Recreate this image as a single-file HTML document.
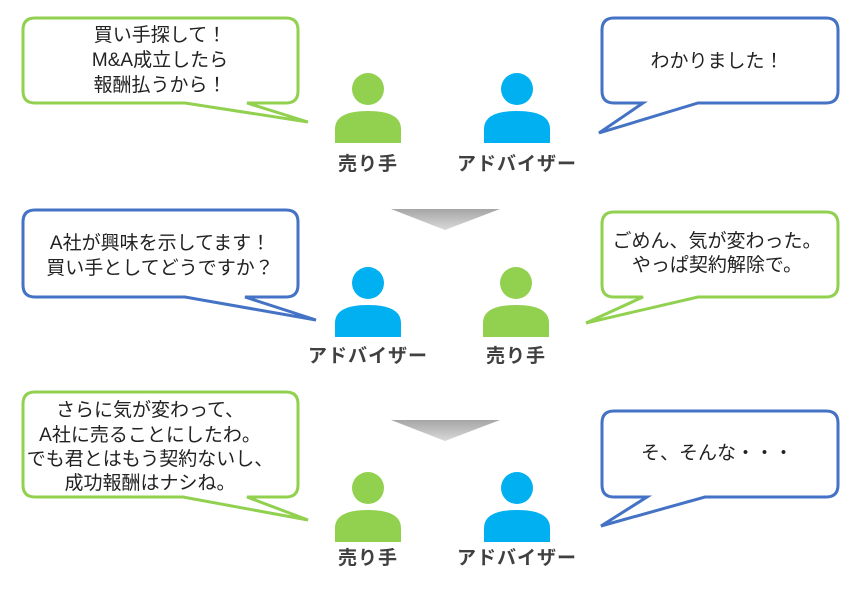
<!DOCTYPE html>
<html><head><meta charset="utf-8"><style>
html,body{margin:0;padding:0;background:#fff;}
svg{display:block;}
.t{font-family:"Liberation Sans","Noto Sans CJK JP",sans-serif;font-size:19px;fill:#222;text-anchor:middle;}
.l{font-family:"Liberation Sans","Noto Sans CJK JP",sans-serif;font-size:19px;letter-spacing:1px;font-weight:bold;fill:#404040;text-anchor:middle;}
.g{fill:#fff;stroke:#92d050;stroke-width:3;stroke-linejoin:miter;}
.b{fill:#fff;stroke:#4472c4;stroke-width:3;stroke-linejoin:miter;}
</style></head><body>
<svg width="864" height="598" viewBox="0 0 864 598" xmlns="http://www.w3.org/2000/svg">
<defs>
<linearGradient id="ar" x1="0" y1="0" x2="0" y2="1"><stop offset="0" stop-color="#a6a6a6"/><stop offset="1" stop-color="#d9d9d9"/></linearGradient>
<g id="pg"><circle cx="0" cy="0" r="16" fill="#92d050"/><path d="M-33,54 V40 Q-33,22 0,22 Q33,22 33,40 V54 Z" fill="#92d050"/></g>
<g id="pb"><circle cx="0" cy="0" r="16" fill="#00b0f0"/><path d="M-33,54 V40 Q-33,22 0,22 Q33,22 33,40 V54 Z" fill="#00b0f0"/></g>
</defs>

<!-- Panel 1 -->
<path class="g" d="M35,18 H286 Q298,18 298,30 V91 Q298,103 286,103 H247 L308,122 L185,103 H35 Q23,103 23,91 V30 Q23,18 35,18 Z"/>
<text class="t" x="160" y="41">買い手探して！</text>
<text class="t" x="160" y="66">M&amp;A成立したら</text>
<text class="t" x="160" y="91">報酬払うから！</text>
<path class="b" d="M614,18 H826 Q838,18 838,30 V91 Q838,103 826,103 H698 L599,133 L643,103 H614 Q602,103 602,91 V30 Q602,18 614,18 Z"/>
<text class="t" x="717" y="67">わかりました！</text>
<use href="#pg" x="368" y="89"/>
<use href="#pb" x="517" y="89"/>
<text class="l" x="368" y="170">売り手</text>
<text class="l" x="517" y="170">アドバイザー</text>

<polygon points="391,209 500,209 445,230" fill="url(#ar)"/>

<!-- Panel 2 -->
<path class="b" d="M35,210 H286 Q298,210 298,222 V285 Q298,297 286,297 H245 L316,320 L185,297 H35 Q23,297 23,285 V222 Q23,210 35,210 Z"/>
<text class="t" x="160" y="249">A社が興味を示してます！</text>
<text class="t" x="160" y="274">買い手としてどうですか？</text>
<path class="g" d="M614,212 H826 Q838,212 838,224 V285 Q838,297 826,297 H698 L586,323 L643,297 H614 Q602,297 602,285 V224 Q602,212 614,212 Z"/>
<text class="t" x="717" y="247">ごめん、気が変わった。</text>
<text class="t" x="717" y="271">やっぱ契約解除で。</text>
<use href="#pb" x="368" y="283"/>
<use href="#pg" x="516" y="283"/>
<text class="l" x="368" y="362">アドバイザー</text>
<text class="l" x="516" y="362">売り手</text>

<polygon points="391,420 500,420 445,441" fill="url(#ar)"/>

<!-- Panel 3 -->
<path class="g" d="M35,392 H286 Q298,392 298,404 V485 Q298,497 286,497 H247 L308,520 L183,497 H35 Q23,497 23,485 V404 Q23,392 35,392 Z"/>
<text class="t" x="150" y="416">さらに気が変わって、</text>
<text class="t" x="150" y="441">A社に売ることにしたわ。</text>
<text class="t" x="150" y="465">でも君とはもう契約ないし、</text>
<text class="t" x="150" y="489">成功報酬はナシね。</text>
<path class="b" d="M614,411 H826 Q838,411 838,423 V485 Q838,497 826,497 H705 L601,526 L647,497 H614 Q602,497 602,485 V423 Q602,411 614,411 Z"/>
<text class="t" x="717" y="459">そ、そんな・・・</text>
<use href="#pg" x="368" y="488"/>
<use href="#pb" x="517" y="488"/>
<text class="l" x="368" y="564">売り手</text>
<text class="l" x="517" y="564">アドバイザー</text>
</svg>
</body></html>
